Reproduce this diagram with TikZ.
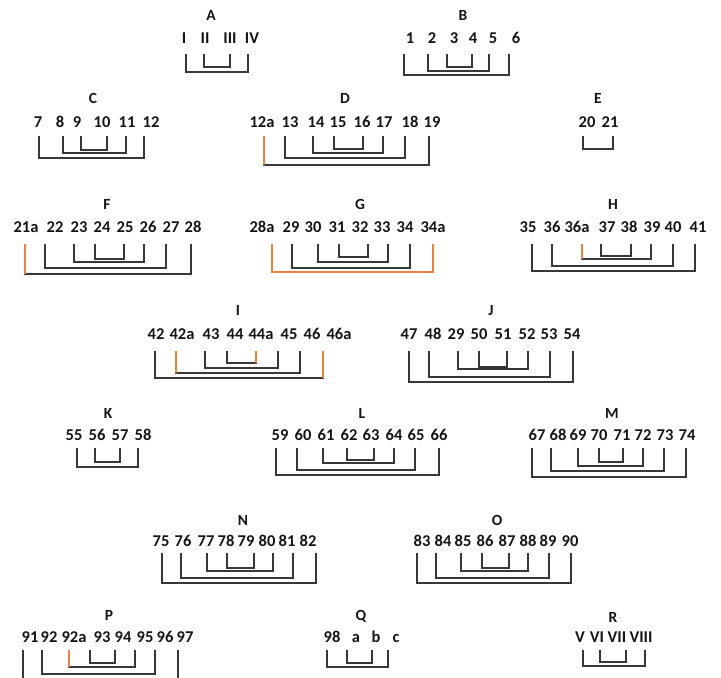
\documentclass[tikz,border=0pt]{standalone}
\usepackage{fontspec}
\setmainfont{Carlito}
\definecolor{txt}{HTML}{141414}
\definecolor{lncol}{HTML}{383838}
\definecolor{orng}{HTML}{EE8040}
\newcommand\gp{14}
\newcommand\row[3]{\foreach \xx/\tx [count=\ii] in {#3} {\node[tk] (#1\ii) at (\xx,#2) {\tx};}}
\newcommand\brk[6][]{\draw[ln,#1] ([shift={(#3,\gp)}]#2.center) -- ([shift={(#3,#6)}]#2.center) -- ([shift={(#5,#6)}]#4.center) -- ([shift={(#5,\gp)}]#4.center);}
\newcommand\vln[4][]{\draw[ln,#1] ([shift={(#3,\gp)}]#2.center) -- ([shift={(#3,#4)}]#2.center);}
\begin{document}
\begin{tikzpicture}[x=1pt,y=-1pt,
  tk/.style={font=\bfseries\fontsize{16.5}{16.5}\selectfont, inner sep=0pt, text height=10.5pt, text depth=0pt, text=txt},
  ttl/.style={font=\bfseries\fontsize{15.5}{15.5}\selectfont, inner sep=0pt, text height=10pt, text depth=0pt, text=txt},
  ln/.style={draw=lncol, line width=1.5pt},
  orl/.style={draw=orng}]
\useasboundingbox (0,0) rectangle (721,678);
% ---------- Row 1 ----------
\renewcommand\gp{16}
\node[ttl] (tA) at (211,15) {A};
\row{A}{38}{184/I,205/II,230/III,252/IV}
\brk{A2}{-1}{A3}{0}{29}
\brk{A1}{2}{A4}{-4}{34}
\node[ttl] (tB) at (463,15) {B};
\row{B}{38}{410/1,432/2,454/3,473/4,493/5,516/6}
\brk{B3}{-7}{B4}{-1}{29}
\brk{B2}{-4}{B5}{-4}{33}
\brk{B1}{-6}{B6}{-7}{37}
% ---------- Row 2 ----------
\renewcommand\gp{14}
\node[ttl] (tC) at (93,98) {C};
\row{C}{122}{38/7,60/8,77/9,102/10,127/11,151/12}
\brk{C3}{4}{C4}{5}{28}
\brk{C2}{3}{C5}{-1}{31}
\brk{C1}{1}{C6}{-7}{36}
\node[ttl] (tD) at (345,98) {D};
\row{D}{122}{262/12a,290/13,316/14,338/15,362/16,384/17,410/18,432/19}
\brk{D4}{-4}{D5}{1}{27}
\brk{D3}{-3}{D6}{-1}{31}
\brk{D2}{-5}{D7}{-5}{36}
\brk{D1}{2}{D8}{-3}{43}
\vln[orl]{D1}{2}{43}
\node[ttl] (tE) at (598,98) {E};
\row{E}{122}{587/20,610/21}
\brk{E1}{-4}{E2}{3}{27}
% ---------- Row 3 ----------
\renewcommand\gp{17}
\node[ttl] (tF) at (107,204) {F};
\row{F}{227}{26/21a,55/22,79/23,102/24,125/25,148/26,171/27,193/28}
\brk{F4}{-7}{F5}{-1}{32}
\brk{F3}{-5}{F6}{-4}{35}
\brk{F2}{-10}{F7}{-5}{41}
\brk{F1}{-1}{F8}{-2}{47}
\vln[orl]{F1}{-1}{47}
\node[ttl] (tG) at (360,204) {G};
\row{G}{227}{262/28a,291/29,313/30,337/31,360/32,382/33,405/34,433/34a}
\brk{G4}{2}{G5}{8}{30}
\brk{G3}{5}{G6}{6}{35}
\brk{G2}{1}{G7}{5}{41}
\brk[orl]{G1}{10}{G8}{0}{45}
\node[ttl] (tH) at (613,204) {H};
\row{H}{227}{528/35,552/36,577/36a,607/37,629/38,652/39,673/40,698/41}
\brk{H4}{-6}{H5}{2}{29}
\brk{H3}{5}{H6}{-1}{32}
\vln[orl]{H3}{5}{32}
\brk{H2}{0}{H7}{0}{39}
\brk{H1}{4}{H8}{-3}{44}
% ---------- Row 4 ----------
\renewcommand\gp{17}
\node[ttl] (tI) at (238,310) {I};
\row{I}{334}{156/42,182/42a,211/43,235/44,261/44a,289/45,312/46,339/46a}
\brk{I4}{-8}{I5}{-5}{29}
\vln[orl]{I5}{-5}{29}
\brk{I3}{-6}{I6}{-11}{34}
\brk{I2}{-6}{I7}{-12}{39}
\vln[orl]{I2}{-6}{39}
\brk{I1}{-1}{I8}{-16}{44}
\vln[orl]{I8}{-16}{44}
\node[ttl] (tJ) at (491,310) {J};
\row{J}{334}{409/47,433/48,456/29,479/50,503/51,527/52,549/53,572/54}
\brk{J4}{0}{J5}{4}{33}
\brk{J3}{2}{J6}{1}{35}
\brk{J2}{-4}{J7}{1}{43}
\brk{J1}{0}{J8}{1}{48}
% ---------- Row 5 ----------
\renewcommand\gp{13}
\node[ttl] (tK) at (108,413) {K};
\row{K}{435}{74/55,97/56,120/57,143/58}
\brk{K2}{-2}{K3}{0}{27}
\brk{K1}{3}{K4}{-5}{32}
\node[ttl] (tL) at (362,413) {L};
\row{L}{435}{280/59,303/60,326/61,349/62,371/63,394/64,416/65,439/66}
\brk{L4}{-2}{L5}{3}{25}
\brk{L3}{-3}{L6}{0}{28}
\brk{L2}{-6}{L7}{-1}{35}
\brk{L1}{-4}{L8}{0}{40}
\node[ttl] (tM) at (612,413) {M};
\row{M}{435}{537/67,558/68,578/69,599/70,622/71,643/72,665/73,687/74}
\brk{M4}{0}{M5}{1}{27}
\brk{M3}{0}{M6}{0}{31}
\brk{M2}{-7}{M7}{-1}{36}
\brk{M1}{-5}{M8}{-1}{42}
% ---------- Row 6 ----------
\renewcommand\gp{12}
\node[ttl] (tN) at (243,520) {N};
\row{N}{541}{161/75,183/76,206/77,226/78,246/79,267/80,287/81,308/82}
\brk{N4}{1}{N5}{8}{27}
\brk{N3}{1}{N6}{6}{30}
\brk{N2}{-2}{N7}{6}{37}
\brk{N1}{1}{N8}{8}{42}
\node[ttl] (tO) at (497,520) {O};
\row{O}{541}{422/83,443/84,463/85,485/86,507/87,528/88,548/89,570/90}
\brk{O4}{-3}{O5}{2}{27}
\brk{O3}{-2}{O6}{0}{30}
\brk{O2}{-7}{O7}{1}{37}
\brk{O1}{-5}{O8}{1}{42}
% ---------- Row 7 ----------
\renewcommand\gp{13}
\node[ttl] (tP) at (109,615) {P};
\row{P}{637}{30/91,49/92,74/92a,102/93,123/94,145/95,165/96,185/97}
\brk{P4}{-12}{P5}{-8}{26}
\brk{P3}{-5}{P6}{-10}{30}
\vln[orl]{P3}{-5}{30}
\brk{P2}{-7}{P7}{-10}{37}
\vln{P1}{-7}{41}
\vln{P8}{-7}{41}
\node[ttl] (tQ) at (361,615) {Q};
\row{Q}{637}{332/98,356/a,376/b,396/c}
\brk{Q2}{-9}{Q3}{-4}{26}
\brk{Q1}{-5}{Q4}{-8}{30}
\node[ttl] (tR) at (613,617) {R};
\row{R}{637}{580/V,597/VI,617/VII,641/VIII}
\brk{R2}{3}{R3}{9}{25}
\brk{R1}{3}{R4}{4}{29}
\end{tikzpicture}
\end{document}
